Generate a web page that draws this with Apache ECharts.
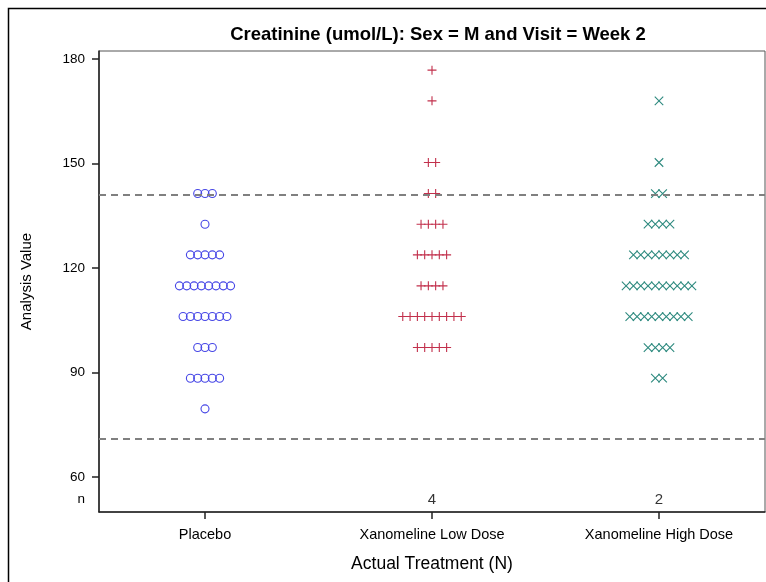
<!DOCTYPE html>
<html><head><meta charset="utf-8">
<script src="https://cdn.jsdelivr.net/npm/echarts@6/dist/echarts.min.js"></script>
<style>html,body{margin:0;padding:0;background:#fff}#c{width:766px;height:582px}</style>
</head><body><div id="c"></div><script>
const categories = ['Placebo', 'Xanomeline Low Dose', 'Xanomeline High Dose'];
const placeboLevels = [141.4, 132.6, 123.8, 114.9, 106.1, 97.2, 88.4, 79.6];
const placeboCounts = [3, 1, 5, 8, 7, 3, 5, 1];
const lowLevels = [176.8, 168.0, 150.3, 141.4, 132.6, 123.8, 114.9, 106.1, 97.2];
const lowCounts = [1, 1, 2, 2, 4, 5, 4, 9, 5];
const highLevels = [168.0, 150.3, 141.4, 132.6, 123.8, 114.9, 106.1, 97.2, 88.4];
const highCounts = [1, 1, 2, 4, 8, 10, 9, 4, 2];
const nCounts = ['', '4', '2'];
const yTicks = [60, 90, 120, 150, 180];
const refLines = [71, 141];
const nRowValue = 53.6;

const pitch = 0.0322;
function swarm(catIdx, levels, counts) {
  const out = [];
  levels.forEach((lv, j) => {
    const k = counts[j];
    for (let i = 0; i < k; i++) out.push([catIdx + 1 + (i - (k - 1) / 2) * pitch, lv]);
  });
  return out;
}
const chart = echarts.init(document.getElementById('c'), null, {renderer: 'canvas'});
const font = 'Liberation Sans, Arial, sans-serif';
const nData = [];
nCounts.forEach((n, i) => { if (n !== '') nData.push([i + 1, nRowValue, n]); });

chart.setOption({
  animation: false,
  textStyle: {fontFamily: font},
  title: {
    text: 'Creatinine (umol/L): Sex = M and Visit = Week 2',
    left: 433, top: 20, textAlign: 'center',
    textStyle: {fontFamily: font, fontSize: 18.5, fontWeight: 'bold', color: '#000'}
  },
  graphic: [{type: 'rect', shape: {x: 8.5, y: 8.5, width: 800, height: 600}, style: {fill: 'none', stroke: '#000', lineWidth: 1.5}, silent: true}],
  grid: {left: 99, right: 1, top: 51, bottom: 70, show: true, borderColor: '#555', borderWidth: 1},
  xAxis: {
    type: 'value', min: 0.533, max: 3.467,
    name: 'Actual Treatment (N)', nameLocation: 'middle', nameGap: 43,
    nameTextStyle: {fontSize: 17.5, color: '#000', fontFamily: font},
    axisLine: {show: true, lineStyle: {color: '#222', width: 1.5}},
    axisTick: {show: true, customValues: [1, 2, 3], length: 7, lineStyle: {color: '#222', width: 1.5}},
    axisLabel: {customValues: [1, 2, 3], formatter: v => categories[Math.round(v) - 1], fontSize: 14.5, color: '#000', margin: 15, fontFamily: font},
    splitLine: {show: false}
  },
  yAxis: {
    type: 'value', min: 50, max: 182.3,
    name: 'Analysis Value', nameLocation: 'middle', nameGap: 65,
    nameTextStyle: {fontSize: 15, color: '#000', fontFamily: font},
    axisLine: {show: true, lineStyle: {color: '#222', width: 1.5}},
    axisTick: {show: true, customValues: yTicks, length: 7, lineStyle: {color: '#222', width: 1.5}},
    axisLabel: {customValues: yTicks.concat([nRowValue]), formatter: v => (v < 55 ? 'n' : String(v)), fontSize: 13.5, color: '#000', margin: 14, fontFamily: font},
    splitLine: {show: false}
  },
  series: [
    {
      type: 'scatter', data: swarm(0, placeboLevels, placeboCounts), symbol: 'circle', symbolSize: 8,
      itemStyle: {color: 'rgba(0,0,0,0)', borderColor: '#4646e6', borderWidth: 1.1, opacity: 1},
      markLine: {silent: true, symbol: 'none', label: {show: false},
        lineStyle: {type: [7, 5], color: '#808080', width: 2},
        data: refLines.map(v => ({yAxis: v}))}
    },
    {
      type: 'scatter', data: swarm(1, lowLevels, lowCounts), symbol: 'path://M0 5L10 5M5 0L5 10', symbolSize: 9,
      itemStyle: {color: 'rgba(0,0,0,0)', borderColor: '#c2304c', borderWidth: 1.1, opacity: 1}
    },
    {
      type: 'scatter', data: swarm(2, highLevels, highCounts), symbol: 'path://M0 0L10 10M10 0L0 10', symbolSize: 8.5,
      itemStyle: {color: 'rgba(0,0,0,0)', borderColor: '#2e8a7f', borderWidth: 1.1, opacity: 1}
    },
    {
      type: 'scatter', data: nData, symbolSize: 0, silent: true,
      label: {show: true, position: 'inside', formatter: p => p.value[2], fontSize: 15, color: '#000', fontFamily: font}
    }
  ]
});
</script></body></html>
